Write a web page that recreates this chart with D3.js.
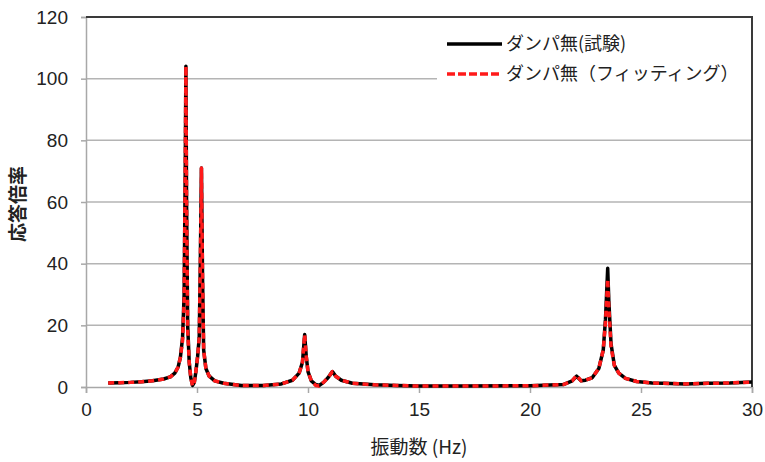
<!DOCTYPE html>
<html>
<head>
<meta charset="utf-8">
<script src="https://cdn.jsdelivr.net/npm/d3@7"></script>
<style>
  body { margin:0; background:#fff; }
  text { font-family: "Liberation Sans", Arial, sans-serif; }
  .jp { font-family: "Noto Sans CJK JP", sans-serif; }
</style>
</head>
<body>
<div id="chart"></div>
<script>
// frequency (Hz)
var freq = [1.0,1.5,2.0,2.5,3.0,3.5,3.8,4.0,4.15,4.25,4.35,4.42,4.47,4.5,4.53,4.58,4.65,4.72,4.8,4.88,
            4.95,5.03,5.1,5.15,5.2,5.25,5.3,5.4,5.55,5.8,6.2,7.0,8.0,8.8,9.3,9.6,9.75,9.85,9.92,10.0,
            10.15,10.35,10.5,10.7,10.9,11.05,11.1,11.25,11.5,12.0,13.0,14.0,15.0,17.0,20.0,21.5,21.9,22.1,22.3,22.5,
            22.8,23.1,23.3,23.4,23.5,23.55,23.65,23.8,24.0,24.3,24.8,25.5,26.0,27.0,28.0,29.0,30.0];
// ダンパ無(試験)
var testVals = [1.3,1.4,1.5,1.7,2.0,2.6,3.3,4.5,6.5,9.5,16,30,70,104,60,20,8,3,0.5,1.5,
                5,10,16,40,71,35,12,6,3.5,2,1.2,0.5,0.5,1,2.2,4.5,8,17,10,5,
                2,0.8,0.5,1.5,3,4.5,5,3.5,2.2,1.2,0.7,0.5,0.3,0.3,0.4,0.8,2,3.5,2,2.2,
                3,6,12,22,38.5,28,14,7,4.5,2.8,1.8,1.3,1.2,1.0,1.2,1.3,1.6];
// ダンパ無（フィッティング）
var fitVals = [1.3,1.4,1.5,1.7,2.0,2.6,3.3,4.5,6.5,9.5,15,28,70,104,60,18,8,3,0.3,1.5,
               5,10,16,40,71,35,12,6,3.5,2,1.2,0.5,0.5,1,2.2,4.5,8,17,10,5,
               2,0.5,0.3,1.5,3,4.5,5,3.5,2.2,1.2,0.7,0.5,0.3,0.3,0.4,0.8,2,3.8,2,2.2,
               3,6,12,21,35,26,13,7,4.5,2.8,1.8,1.3,1.2,1.0,1.2,1.3,1.6];
var xTicks = [0,5,10,15,20,25,30];
var yTicks = [0,20,40,60,80,100,120];
var seriesNames = ['ダンパ無(試験)','ダンパ無（フィッティング）'];

var W = 765, H = 462;
var margin = {top:17, left:86, right:13, bottom:75};

var svg = d3.select('#chart').append('svg')
  .attr('width', W).attr('height', H);

var x = d3.scaleLinear().domain([0,30]).range([margin.left, W - margin.right]);
var y = d3.scaleLinear().domain([0,120]).range([H - margin.bottom, margin.top]);

// grid
svg.append('g').selectAll('line').data(yTicks.slice(1,-1)).enter().append('line')
  .attr('x1', x(0)).attr('x2', x(30))
  .attr('y1', function(d){ return y(d); }).attr('y2', function(d){ return y(d); })
  .attr('stroke', '#b4b4b4').attr('stroke-width', 1.5);

// y axis
var ya = svg.append('g').attr('transform', 'translate(' + x(0) + ',0)')
  .call(d3.axisLeft(y).tickValues(yTicks).tickSize(5).tickPadding(13));
ya.select('.domain').attr('stroke', '#a8a8a8').attr('stroke-width', 1.5);
ya.selectAll('.tick line').attr('stroke', '#a8a8a8').attr('stroke-width', 1.5);
ya.selectAll('.tick text').attr('font-size', 19).attr('fill', '#222')
  .attr('font-family', '"Liberation Sans", Arial, sans-serif');

// x axis
var xa = svg.append('g').attr('transform', 'translate(0,' + y(0) + ')')
  .call(d3.axisBottom(x).tickValues(xTicks).tickSize(6).tickPadding(10));
xa.select('.domain').attr('stroke', '#a8a8a8').attr('stroke-width', 1.5);
xa.selectAll('.tick line').attr('stroke', '#a8a8a8').attr('stroke-width', 1.5);
xa.selectAll('.tick text').attr('font-size', 19).attr('fill', '#222')
  .attr('font-family', '"Liberation Sans", Arial, sans-serif');

// top + right border
svg.append('path')
  .attr('d', 'M' + x(0) + ',' + y(120) + 'H' + x(30) + 'V' + y(0))
  .attr('fill', 'none').attr('stroke', '#3a3a3a').attr('stroke-width', 2);

// legend box (covers grid)
svg.append('rect')
  .attr('x', 437).attr('y', y(120) + 2)
  .attr('width', x(30) - 438).attr('height', 76)
  .attr('fill', '#fff');

var line = d3.line()
  .x(function(d){ return x(d[0]); })
  .y(function(d){ return y(d[1]); });

var testData = freq.map(function(f,i){ return [f, testVals[i]]; });
var fitData = freq.map(function(f,i){ return [f, fitVals[i]]; });

svg.append('path').datum(testData)
  .attr('d', line).attr('fill', 'none')
  .attr('stroke', '#000').attr('stroke-width', 3.5).attr('stroke-linejoin', 'round');

svg.append('path').datum(fitData)
  .attr('d', line).attr('fill', 'none')
  .attr('stroke', '#ff1a1a').attr('stroke-width', 3.5)
  .attr('stroke-dasharray', '6,4').attr('stroke-linejoin', 'round');

// legend
var leg = [{y:44, color:'#000', dash:null}, {y:74, color:'#ff1a1a', dash:'8,3'}];
leg.forEach(function(l, i){
  svg.append('line')
    .attr('x1', 447).attr('x2', 502).attr('y1', l.y).attr('y2', l.y)
    .attr('stroke', l.color).attr('stroke-width', 3.5)
    .attr('stroke-dasharray', l.dash);
  svg.append('text').attr('class', 'jp')
    .attr('x', 506).attr('y', l.y).attr('dy', '0.35em')
    .attr('font-size', 18).attr('fill', '#222')
    .text(seriesNames[i]);
});

// axis titles
svg.append('text').attr('class', 'jp')
  .attr('x', (x(0) + x(30)) / 2).attr('y', 454)
  .attr('text-anchor', 'middle').attr('font-size', 19).attr('fill', '#222')
  .text('振動数 (Hz)');

svg.append('text').attr('class', 'jp')
  .attr('transform', 'translate(18,' + 204 + ') rotate(-90)')
  .attr('text-anchor', 'middle').attr('dy', '0.35em')
  .attr('font-size', 19).attr('font-weight', 'bold').attr('fill', '#222')
  .text('応答倍率');
</script>
</body>
</html>
